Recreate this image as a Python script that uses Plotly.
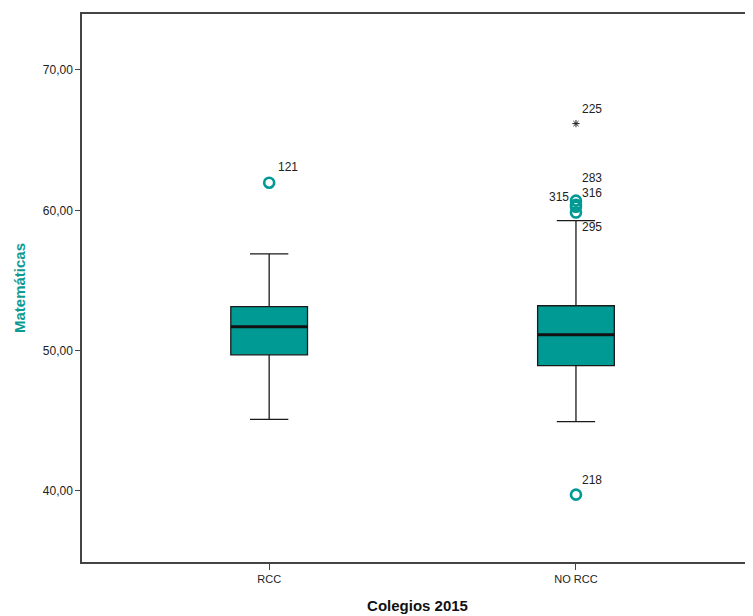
import plotly.graph_objects as go

categories = ["RCC", "NO RCC"]
q1 = [49.7, 48.93]
median = [51.7, 51.14]
q3 = [53.14, 53.2]
lower_whisker = [45.1, 44.94]
upper_whisker = [56.9, 59.27]

# outliers: (category index, value, case label)
circle_cat = [0, 1, 1, 1, 1, 1]
circle_val = [61.97, 60.69, 60.4, 60.25, 59.84, 39.74]
circle_lbl = ["121", "283", "316", "315", "295", "218"]
extreme_cat = [1]
extreme_val = [66.18]
extreme_lbl = ["225"]

y_tickvals = [40, 50, 60, 70]
y_ticktext = ["40,00", "50,00", "60,00", "70,00"]

TEAL = "#009A95"
BOXW = 0.25

fig = go.Figure()
for i, c in enumerate(categories):
    fig.add_trace(go.Box(
        x=[i], q1=[q1[i]], median=[median[i]], q3=[q3[i]],
        lowerfence=[lower_whisker[i]], upperfence=[upper_whisker[i]],
        width=BOXW, whiskerwidth=0.5, fillcolor=TEAL,
        line=dict(color="#1a1a1a", width=1.3), boxpoints=False,
        hoverinfo="skip", showlegend=False,
    ))
    fig.add_trace(go.Scatter(
        x=[i - BOXW / 2, i + BOXW / 2], y=[median[i], median[i]],
        mode="lines", line=dict(color="#111111", width=3),
        hoverinfo="skip", showlegend=False,
    ))

fig.add_trace(go.Scatter(
    x=circle_cat, y=circle_val, mode="markers",
    marker=dict(symbol="circle-open", size=10, color=TEAL, line=dict(width=2.6, color=TEAL)),
    showlegend=False, hoverinfo="skip",
))
fig.add_trace(go.Scatter(
    x=extreme_cat, y=extreme_val, mode="markers",
    marker=dict(symbol="asterisk-open", size=6, color="#222222", line=dict(width=1.0, color="#222222")),
    showlegend=False, hoverinfo="skip",
))

# label offsets (pixels) relative to points
offsets = {"121": (19, 16), "283": (16, 23), "316": (16, 12), "315": (-17, 10),
           "295": (16, -14), "218": (16, 15), "225": (16, 15)}
for c, v, l in list(zip(circle_cat, circle_val, circle_lbl)) + list(zip(extreme_cat, extreme_val, extreme_lbl)):
    dx, dy = offsets[l]
    fig.add_annotation(x=c, y=v, text=l, showarrow=False, xshift=dx, yshift=dy,
                       font=dict(family="Liberation Sans, Arial", size=12, color="#222222"))

fig.update_layout(
    width=745, height=608,
    margin=dict(l=74, r=0, t=6, b=54),
    paper_bgcolor="white", plot_bgcolor="white",
    font=dict(family="Liberation Sans, Arial", size=11, color="#222222"),
    xaxis=dict(
        range=[-0.61, 1.577], tickvals=[0, 1], ticktext=categories,
        showgrid=False, zeroline=False, showline=True, linecolor="#444444", linewidth=1.5,
        mirror=True, ticks="outside", ticklen=6, tickcolor="#444444",
        title=dict(text="<b>Colegios 2015</b>", font=dict(size=15, color="#111111"), standoff=17),
        tickfont=dict(size=11),
    ),
    yaxis=dict(
        range=[34.94, 73.99], tickvals=y_tickvals, ticktext=y_ticktext,
        showgrid=False, zeroline=False, showline=True, linecolor="#444444", linewidth=1.5,
        ticks="outside", ticklen=5, tickcolor="#444444",
        title=dict(text="<b>Matemáticas</b>", font=dict(size=15, color="#0E9A94"), standoff=14),
        tickfont=dict(size=12),
    ),
)

fig.write_html("out.html")
